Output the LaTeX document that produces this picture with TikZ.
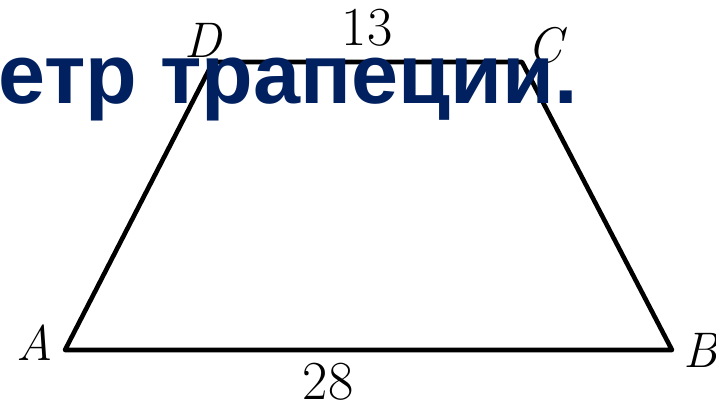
\documentclass[tikz,border=0pt]{standalone}
\usepackage{fontspec}
\newfontfamily\headfont{Liberation Sans}
\usetikzlibrary{positioning}
\definecolor{headblue}{RGB}{0,32,96}

\begin{document}
\begin{tikzpicture}[
    x=1pt, y=-1pt,
    vertex/.style={font=\fontsize{50}{50}\selectfont\itshape, inner sep=0pt},
    length/.style={font=\fontsize{55}{55}\selectfont, inner sep=0pt},
    side/.style={line width=4.6pt, line join=round},
    heading/.style={font=\headfont\bfseries\fontsize{84.5}{84.5}\selectfont, text=headblue, inner sep=0pt},
]
\useasboundingbox (0,0) rectangle (716,405);

% Corners of the trapezoid
\coordinate (A) at (65,350);
\coordinate (B) at (672,350);
\coordinate (C) at (522,62);
\coordinate (D) at (213,62);

% Sides
\draw[side] (A) -- (B) -- (C) -- (D) -- cycle;

% Corner labels
\node[vertex] (lA) at (35,343) {A};
\node[vertex] (lB) at (701,350) {B};
\node[vertex] (lC) at (545,45) {C};
\node[vertex] (lD) at (203,40) {D};

% Lengths of the bases
\node[length] (top) at (367,28) {13};
\node[length] (bottom) at (328,382) {28};

% Heading over the figure
\node[heading, anchor=base west] (title) at (-2,103) {етр трапеции.};

\end{tikzpicture}
\end{document}
